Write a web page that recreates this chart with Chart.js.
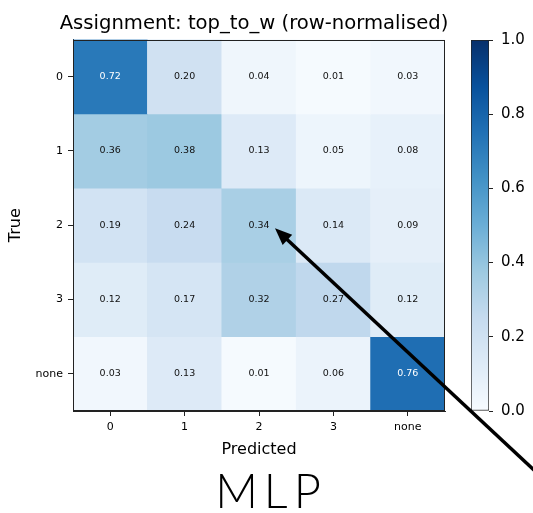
<!DOCTYPE html>
<html>
<head>
<meta charset="utf-8">
<script src="https://cdn.jsdelivr.net/npm/chart.js@4.4.0/dist/chart.umd.min.js"></script>
<style>
  body { margin: 0; background: #fff; }
  .wrap { position: relative; width: 533px; height: 513px; overflow: hidden; }
  #cbCanvas { position: absolute; left: 458px; top: 23px; }
  #mainCanvas { position: absolute; left: 0; top: 0; }
  .model {
    position: absolute; left: 3px; top: 467px; width: 536px;
    text-align: center; font-family: Lato, "DejaVu Sans", sans-serif;
    font-weight: 300; font-size: 47px; line-height: 1; color: #000;
    letter-spacing: 6px;
  }
</style>
</head>
<body>
<div class="wrap">
  <canvas id="cbCanvas" width="75" height="405"></canvas>
  <canvas id="mainCanvas" width="533" height="513"></canvas>
  <div class="model">MLP</div>
</div>
<script>
const predLabels = ['0', '1', '2', '3', 'none'];
const trueLabels = ['0', '1', '2', '3', 'none'];

const row0 = [0.72, 0.20, 0.04, 0.01, 0.03];
const row1 = [0.36, 0.38, 0.13, 0.05, 0.08];
const row2 = [0.19, 0.24, 0.34, 0.14, 0.09];
const row3 = [0.12, 0.17, 0.32, 0.27, 0.12];
const rowNone = [0.03, 0.13, 0.01, 0.06, 0.76];
const matrix = [row0, row1, row2, row3, rowNone];

const colorbarTicks = [0, 0.2, 0.4, 0.6, 0.8, 1.0];

// matplotlib "Blues"
const bluesStops = ['#f7fbff', '#deebf7', '#c6dbef', '#9ecae1', '#6baed6',
                    '#4292c6', '#2171b5', '#08519c', '#08306b'];

Chart.defaults.font.family = '"DejaVu Sans", sans-serif';
Chart.defaults.color = '#000';

function hexToRgb(h) {
    return [parseInt(h.slice(1, 3), 16), parseInt(h.slice(3, 5), 16), parseInt(h.slice(5, 7), 16)];
}

function blues(v) {
    const t = Math.max(0, Math.min(1, v)) * (bluesStops.length - 1);
    const i = Math.min(Math.floor(t), bluesStops.length - 2);
    const f = t - i;
    const a = hexToRgb(bluesStops[i]);
    const b = hexToRgb(bluesStops[i + 1]);
    const c = a.map((x, k) => Math.round(x + (b[k] - x) * f));
    return `rgb(${c[0]}, ${c[1]}, ${c[2]})`;
}

const cellText = {
    id: 'cellText',
    afterDatasetsDraw(chart) {
        const ctx = chart.ctx;
        ctx.save();
        ctx.font = '9.5px "DejaVu Sans"';
        ctx.textAlign = 'center';
        ctx.textBaseline = 'middle';
        matrix.forEach((row, r) => {
            chart.getDatasetMeta(r).data.forEach((bar, c) => {
                const v = row[c];
                ctx.fillStyle = v > 0.5 ? '#ffffff' : '#111111';
                ctx.fillText(v.toFixed(2), bar.x, (bar.y + bar.base) / 2);
            });
        });
        ctx.restore();
    }
};

const frame = {
    id: 'frame',
    afterDraw(chart) {
        const a = chart.chartArea;
        const ctx = chart.ctx;
        ctx.save();
        ctx.strokeStyle = '#222';
        ctx.lineWidth = 1;
        ctx.strokeRect(Math.round(a.left) + 0.5, Math.round(a.top) + 0.5,
                       Math.round(a.right - a.left) - 1, Math.round(a.bottom - a.top) - 1);
        ctx.restore();
    }
};

// arrow pointing at the (2, 2) cell, coming in from the lower right
const arrow = {
    id: 'arrow',
    afterDraw(chart) {
        const xs = chart.scales.x;
        const ys = chart.scales.y;
        const tipX = xs.getPixelForValue(2) + 16;
        const tipY = ys.getPixelForValue(2.5) + 3;
        const tailX = tipX + 300;
        const tailY = tipY + 280;
        const ang = Math.atan2(tailY - tipY, tailX - tipX);
        const headLen = 17, headW = 7;
        const ctx = chart.ctx;
        ctx.save();
        ctx.strokeStyle = '#000';
        ctx.fillStyle = '#000';
        ctx.lineWidth = 3.5;
        ctx.beginPath();
        ctx.moveTo(tipX + Math.cos(ang) * headLen * 0.8, tipY + Math.sin(ang) * headLen * 0.8);
        ctx.lineTo(tailX, tailY);
        ctx.stroke();
        const bx = tipX + Math.cos(ang) * headLen;
        const by = tipY + Math.sin(ang) * headLen;
        ctx.beginPath();
        ctx.moveTo(tipX, tipY);
        ctx.lineTo(bx - Math.sin(ang) * headW, by + Math.cos(ang) * headW);
        ctx.lineTo(bx + Math.sin(ang) * headW, by - Math.cos(ang) * headW);
        ctx.closePath();
        ctx.fill();
        ctx.restore();
    }
};

const datasets = matrix.map((row, r) => ({
    label: trueLabels[r],
    data: predLabels.map(() => [r, r + 1]),
    backgroundColor: row.map(blues),
    borderWidth: 0,
    grouped: false,
    barPercentage: 1,
    categoryPercentage: 1
}));

new Chart(document.getElementById('mainCanvas').getContext('2d'), {
    type: 'bar',
    data: { labels: predLabels, datasets: datasets },
    options: {
        responsive: false,
        animation: false,
        layout: { padding: { left: 0, right: 25, top: 0, bottom: 50 } },
        plugins: {
            legend: { display: false },
            tooltip: { enabled: false },
            title: {
                display: true,
                text: 'Assignment: top_to_w (row-normalised)',
                color: '#000',
                font: { size: 19.6, weight: 'normal' },
                padding: { top: 12, bottom: 4 },
                align: 'center'
            }
        },
        scales: {
            x: {
                type: 'category',
                grid: { offset: false, drawOnChartArea: false, drawTicks: true, tickLength: 5, color: '#222' },
                border: { display: true, color: '#222' },
                ticks: { font: { size: 11 }, padding: 5, color: '#000', maxRotation: 0 },
                title: { display: true, text: 'Predicted', font: { size: 16 }, padding: { top: 2, bottom: 4 }, color: '#000' },
                afterFit: (s) => { s.height = 52; }
            },
            y: {
                type: 'linear',
                min: 0,
                max: 5,
                reverse: true,
                afterBuildTicks: (s) => { s.ticks = trueLabels.map((_, i) => ({ value: i + 0.5 })); },
                grid: { drawOnChartArea: false, drawTicks: true, tickLength: 5, color: '#222' },
                border: { display: true, color: '#222' },
                ticks: {
                    font: { size: 11 }, padding: 5, color: '#000',
                    callback: (v, i) => trueLabels[i]
                },
                title: { display: true, text: 'True', font: { size: 16 }, padding: { top: 6, bottom: 0 }, color: '#000' },
                afterFit: (s) => { s.width = 73; }
            },
            // empty right-hand gutter (room for the colorbar), keeps the title centred on the plot
            gutter: {
                type: 'linear',
                position: 'right',
                display: true,
                grid: { display: false },
                border: { display: false },
                ticks: { display: false },
                afterFit: (s) => { s.width = 63; }
            }
        }
    },
    plugins: [cellText, frame, arrow]
});

// colorbar
new Chart(document.getElementById('cbCanvas').getContext('2d'), {
    type: 'bar',
    data: {
        labels: [''],
        datasets: [{
            data: [[0, 1]],
            backgroundColor: (c) => {
                const area = c.chart.chartArea;
                if (!area) return bluesStops[4];
                const g = c.chart.ctx.createLinearGradient(0, area.bottom, 0, area.top);
                bluesStops.forEach((col, i) => g.addColorStop(i / (bluesStops.length - 1), col));
                return g;
            },
            borderColor: '#222',
            borderWidth: 1,
            borderSkipped: false,
            barPercentage: 1,
            categoryPercentage: 1
        }]
    },
    options: {
        responsive: false,
        animation: false,
        layout: { padding: { left: 13, right: 0, top: 0, bottom: 0 } },
        plugins: { legend: { display: false }, tooltip: { enabled: false } },
        scales: {
            x: { display: false },
            y: {
                position: 'right',
                min: 0,
                max: 1,
                afterBuildTicks: (s) => { s.ticks = colorbarTicks.map(v => ({ value: v })); },
                grid: { drawOnChartArea: false, drawTicks: true, tickLength: 4, color: '#222' },
                border: { display: false },
                ticks: { font: { size: 15 }, padding: 8, color: '#000', callback: (v) => Number(v).toFixed(1) },
                afterFit: (s) => { s.width = 44; }
            }
        }
    }
});
</script>
</body>
</html>
